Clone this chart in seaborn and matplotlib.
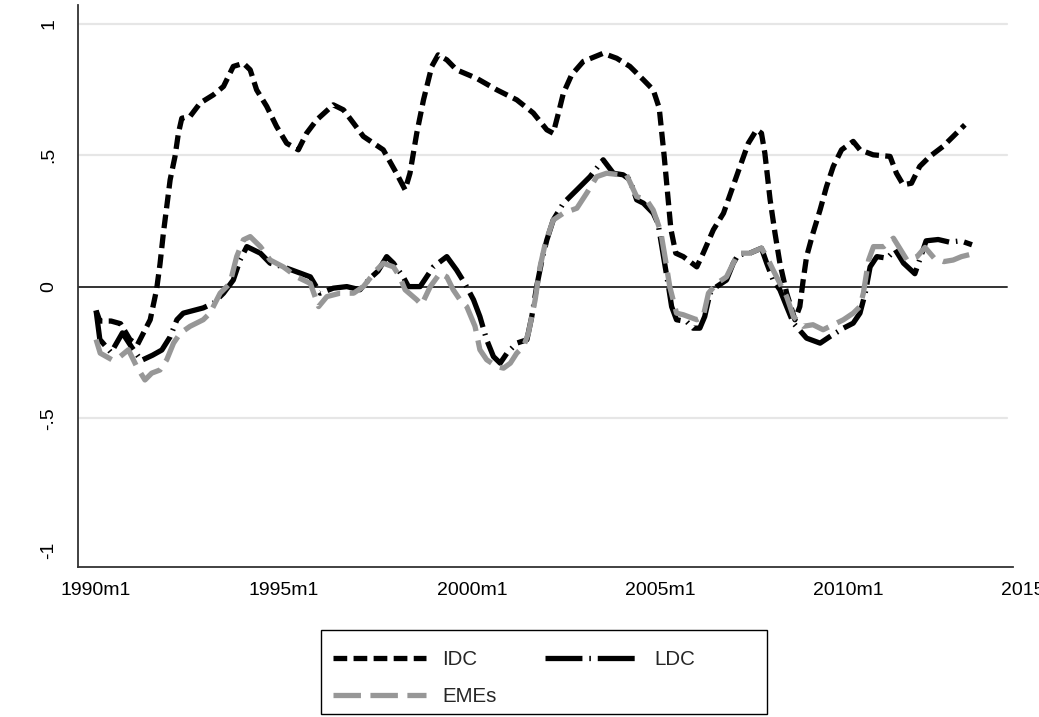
import pandas as pd
import matplotlib
matplotlib.use('Agg')
import matplotlib.pyplot as plt
import seaborn as sns
from matplotlib.patches import Rectangle

# Series (decimal year, value)
idc_x = [1990.00, 1990.10, 1990.40, 1990.65, 1990.90, 1991.10, 1991.44, 1991.61, 1991.70, 1991.79,
         1991.88, 1991.97, 1992.10, 1992.19, 1992.28, 1992.50, 1992.77, 1993.12, 1993.39, 1993.65,
         1993.92, 1994.10, 1994.27, 1994.54, 1994.80, 1995.07, 1995.38, 1995.60, 1995.87, 1996.31,
         1996.58, 1996.85, 1997.11, 1997.38, 1997.64, 1997.99, 1998.22, 1998.35, 1998.53, 1998.71,
         1998.93, 1999.10, 1999.33, 1999.59, 2000.12, 2000.66, 2001.19, 2001.63, 2001.99, 2002.16,
         2002.30, 2002.43, 2002.65, 2002.96, 2003.49, 2003.85, 2004.20, 2004.56, 2004.82, 2004.98,
         2005.11, 2005.20, 2005.29, 2005.42, 2005.62, 2005.98, 2006.15, 2006.42, 2006.69, 2006.91,
         2007.13, 2007.35, 2007.57, 2007.70, 2007.79, 2007.93, 2008.06, 2008.19, 2008.37, 2008.59,
         2008.72, 2008.81, 2008.90, 2009.07, 2009.26, 2009.43, 2009.61, 2009.83, 2010.14, 2010.32,
         2010.67, 2011.12, 2011.29, 2011.47, 2011.69, 2011.91, 2012.18, 2012.53, 2012.80, 2013.11]
idc_y = [-0.09, -0.13, -0.13, -0.14, -0.20, -0.22, -0.125, -0.01, 0.086, 0.204,
         0.305, 0.407, 0.496, 0.584, 0.641, 0.648, 0.699, 0.730, 0.762, 0.838,
         0.850, 0.825, 0.749, 0.686, 0.610, 0.546, 0.521, 0.584, 0.635, 0.692,
         0.673, 0.622, 0.572, 0.546, 0.521, 0.432, 0.369, 0.432, 0.584, 0.711,
         0.838, 0.882, 0.863, 0.825, 0.793, 0.749, 0.711, 0.661, 0.597, 0.584,
         0.661, 0.736, 0.806, 0.857, 0.888, 0.869, 0.838, 0.787, 0.749, 0.680,
         0.500, 0.360, 0.220, 0.128, 0.115, 0.076, 0.128, 0.217, 0.280, 0.369,
         0.458, 0.546, 0.597, 0.584, 0.508, 0.331, 0.204, 0.090, -0.024, -0.125,
         -0.075, 0.026, 0.115, 0.204, 0.293, 0.381, 0.458, 0.521, 0.553, 0.521,
         0.502, 0.496, 0.432, 0.388, 0.394, 0.458, 0.496, 0.534, 0.572, 0.616]

ldc_x = [1990.00, 1990.10, 1990.40, 1990.70, 1990.95, 1991.20, 1991.50, 1991.75, 1991.97, 1992.15,
         1992.32, 1992.85, 1993.12, 1993.39, 1993.65, 1993.83, 1994.01, 1994.37, 1994.63, 1994.98,
         1995.34, 1995.70, 1995.96, 1996.31, 1996.67, 1997.02, 1997.29, 1997.50, 1997.73, 1997.91,
         1998.17, 1998.31, 1998.62, 1998.97, 1999.33, 1999.59, 1999.81, 2000.04, 2000.21, 2000.39,
         2000.57, 2000.75, 2000.93, 2001.19, 2001.46, 2001.59, 2001.72, 2001.86, 2001.99, 2002.16,
         2002.43, 2002.79, 2003.14, 2003.49, 2003.76, 2004.02, 2004.20, 2004.38, 2004.56, 2004.82,
         2004.95, 2005.10, 2005.24, 2005.31, 2005.44, 2005.71, 2005.88, 2006.06, 2006.19, 2006.33,
         2006.51, 2006.77, 2006.95, 2007.08, 2007.39, 2007.70, 2007.84, 2008.01, 2008.19, 2008.37,
         2008.55, 2008.90, 2009.26, 2009.52, 2009.88, 2010.14, 2010.32, 2010.46, 2010.59, 2010.77,
         2011.04, 2011.26, 2011.48, 2011.78, 2011.95, 2012.08, 2012.40, 2012.70, 2013.00, 2013.30]
ldc_y = [-0.09, -0.20, -0.25, -0.175, -0.23, -0.28, -0.26, -0.24, -0.19, -0.125,
         -0.10, -0.08, -0.062, -0.024, 0.026, 0.102, 0.153, 0.128, 0.090, 0.076,
         0.057, 0.038, -0.024, -0.005, 0.001, -0.011, 0.033, 0.060, 0.115, 0.090,
         0.038, 0.001, 0.001, 0.076, 0.115, 0.064, 0.013, -0.049, -0.113, -0.201,
         -0.265, -0.290, -0.252, -0.214, -0.201, -0.113, 0.001, 0.102, 0.178, 0.254,
         0.318, 0.369, 0.419, 0.483, 0.432, 0.426, 0.407, 0.331, 0.318, 0.280,
         0.240, 0.110, -0.010, -0.075, -0.125, -0.132, -0.157, -0.157, -0.113, -0.024,
         0.001, 0.026, 0.090, 0.122, 0.128, 0.147, 0.090, 0.026, -0.011, -0.075,
         -0.138, -0.195, -0.214, -0.189, -0.157, -0.138, -0.100, -0.024, 0.076, 0.115,
         0.109, 0.141, 0.090, 0.050, 0.120, 0.175, 0.180, 0.170, 0.175, 0.160]

eme_x = [1990.00, 1990.11, 1990.42, 1990.64, 1990.86, 1991.08, 1991.30, 1991.48, 1991.70, 1991.88,
         1992.06, 1992.24, 1992.50, 1992.85, 1993.03, 1993.30, 1993.56, 1993.74, 1993.92, 1994.10,
         1994.37, 1994.63, 1994.98, 1995.34, 1995.70, 1995.92, 1996.14, 1996.49, 1996.85, 1997.11,
         1997.46, 1997.64, 1997.91, 1998.08, 1998.22, 1998.53, 1998.66, 1998.89, 1999.15, 1999.33,
         1999.50, 1999.68, 1999.86, 2000.08, 2000.21, 2000.39, 2000.66, 2000.84, 2001.02, 2001.19,
         2001.37, 2001.50, 2001.68, 2001.81, 2001.95, 2002.16, 2002.43, 2002.79, 2003.05, 2003.32,
         2003.58, 2003.94, 2004.11, 2004.38, 2004.64, 2004.82, 2005.02, 2005.15, 2005.26, 2005.44,
         2005.62, 2005.98, 2006.15, 2006.29, 2006.51, 2006.77, 2006.95, 2007.08, 2007.39, 2007.70,
         2007.84, 2008.01, 2008.19, 2008.37, 2008.55, 2008.81, 2009.07, 2009.34, 2009.61, 2009.88,
         2010.14, 2010.32, 2010.41, 2010.55, 2010.68, 2010.95, 2011.21, 2011.35, 2011.57, 2011.84,
         2012.05, 2012.29, 2012.55, 2012.80, 2013.02, 2013.30]
eme_y = [-0.20, -0.252, -0.277, -0.265, -0.239, -0.303, -0.354, -0.328, -0.316, -0.277,
         -0.214, -0.176, -0.150, -0.125, -0.100, -0.024, 0.013, 0.115, 0.179, 0.191,
         0.153, 0.102, 0.076, 0.038, 0.013, -0.075, -0.037, -0.024, -0.024, 0.001,
         0.064, 0.090, 0.076, 0.038, -0.011, -0.049, -0.068, 0.001, 0.052, 0.038,
         -0.011, -0.049, -0.075, -0.150, -0.239, -0.277, -0.303, -0.309, -0.290, -0.252,
         -0.227, -0.176, -0.049, 0.076, 0.166, 0.254, 0.280, 0.299, 0.356, 0.419,
         0.432, 0.426, 0.426, 0.343, 0.331, 0.292, 0.210, 0.100, 0.001, -0.100,
         -0.106, -0.125, -0.113, -0.024, 0.013, 0.038, 0.090, 0.128, 0.128, 0.147,
         0.115, 0.064, 0.013, -0.037, -0.113, -0.150, -0.144, -0.163, -0.144, -0.125,
         -0.100, -0.075, -0.024, 0.102, 0.153, 0.153, 0.185, 0.153, 0.102, 0.115,
         0.150, 0.110, 0.096, 0.102, 0.115, 0.125]

series_order = ['IDC', 'LDC', 'EMEs']
x_ticks = [1990, 1995, 2000, 2005, 2010, 2015]
x_labels = ['1990m1', '1995m1', '2000m1', '2005m1', '2010m1', '2015m1']
y_ticks = [-1, -0.5, 0, 0.5, 1]
y_labels = ['-1', '-.5', '0', '.5', '1']
grid_lines = [-0.5, 0.5, 1]

# long format for seaborn
frames = []
for name, xs, ys in [('IDC', idc_x, idc_y), ('LDC', ldc_x, ldc_y), ('EMEs', eme_x, eme_y)]:
    frames.append(pd.DataFrame({'date': xs, 'value': ys, 'series': name}))
df = pd.concat(frames, ignore_index=True)

sns.set_style('white')
plt.rcParams['font.family'] = ['Liberation Sans', 'DejaVu Sans']

colors = {'IDC': 'black', 'LDC': 'black', 'EMEs': '#979797'}
dash_styles = {'IDC': (2.6, 1.2), 'LDC': (7.0, 1.3, 0.3, 1.3), 'EMEs': (5.2, 1.8)}

W, H = 1039, 717
fig = plt.figure(figsize=(W / 100, H / 100), dpi=100)
ax = fig.add_axes([0.0751, 0.2092, 0.923, 0.784])

sns.lineplot(data=df, x='date', y='value', hue='series', style='series',
             hue_order=series_order, style_order=series_order,
             palette=colors, dashes=dash_styles, linewidth=3.8,
             estimator=None, sort=False, legend=False, ax=ax, zorder=3)
lines = list(ax.lines)

x_left, x_right = 1989.52, 2015.03
ax.set_xlim(x_left, x_right)
ax.set_ylim(-1.065, 1.072)
line_end = (2014.22 - x_left) / (x_right - x_left)

# reference lines
for g in grid_lines:
    ax.axhline(g, xmax=line_end, color='#e6e6e6', lw=1.6, zorder=1)
ax.axhline(0, xmax=line_end, color='#333333', lw=1.4, zorder=2)

for s in ['top', 'right']:
    ax.spines[s].set_visible(False)
for s in ['left', 'bottom']:
    ax.spines[s].set_color('#333333')
    ax.spines[s].set_linewidth(1.3)
ax.spines['bottom'].set_bounds(x_left, 2014.38)

ax.set_xticks(x_ticks)
ax.set_xticklabels(x_labels)
ax.set_yticks(y_ticks)
ax.set_yticklabels(y_labels, rotation=90, va='center')
ax.tick_params(axis='both', direction='out', width=1.2, color='#333333',
               labelsize=14, labelcolor='black')
ax.tick_params(axis='x', length=7.5, pad=3.5)
ax.tick_params(axis='y', length=8, pad=7)
ax.set_xlabel('')
ax.set_ylabel('')
ax.grid(False)

leg = fig.legend(handles=[lines[0], lines[2], lines[1]], labels=['IDC', 'EMEs', 'LDC'],
                 ncol=2, loc='upper left', bbox_to_anchor=(323 / W, 1 - 640 / H),
                 frameon=False, fontsize=14.8, handlelength=4.53, handletextpad=0.78,
                 columnspacing=2.34, labelspacing=0.85, borderpad=0)

# Stata-style legend box, wider on the right than the content
fig.canvas.draw()
bb = leg.get_window_extent()
x0, x1 = bb.x0 - 12, bb.x1 + 72
y0, y1 = bb.y0 - 8, bb.y1 + 20
fig.patches.append(Rectangle((x0 / W, y0 / H), (x1 - x0) / W, (y1 - y0) / H,
                             transform=fig.transFigure, fill=False,
                             edgecolor='black', linewidth=1.0))

fig.savefig('out.png', dpi=100, facecolor='white')
